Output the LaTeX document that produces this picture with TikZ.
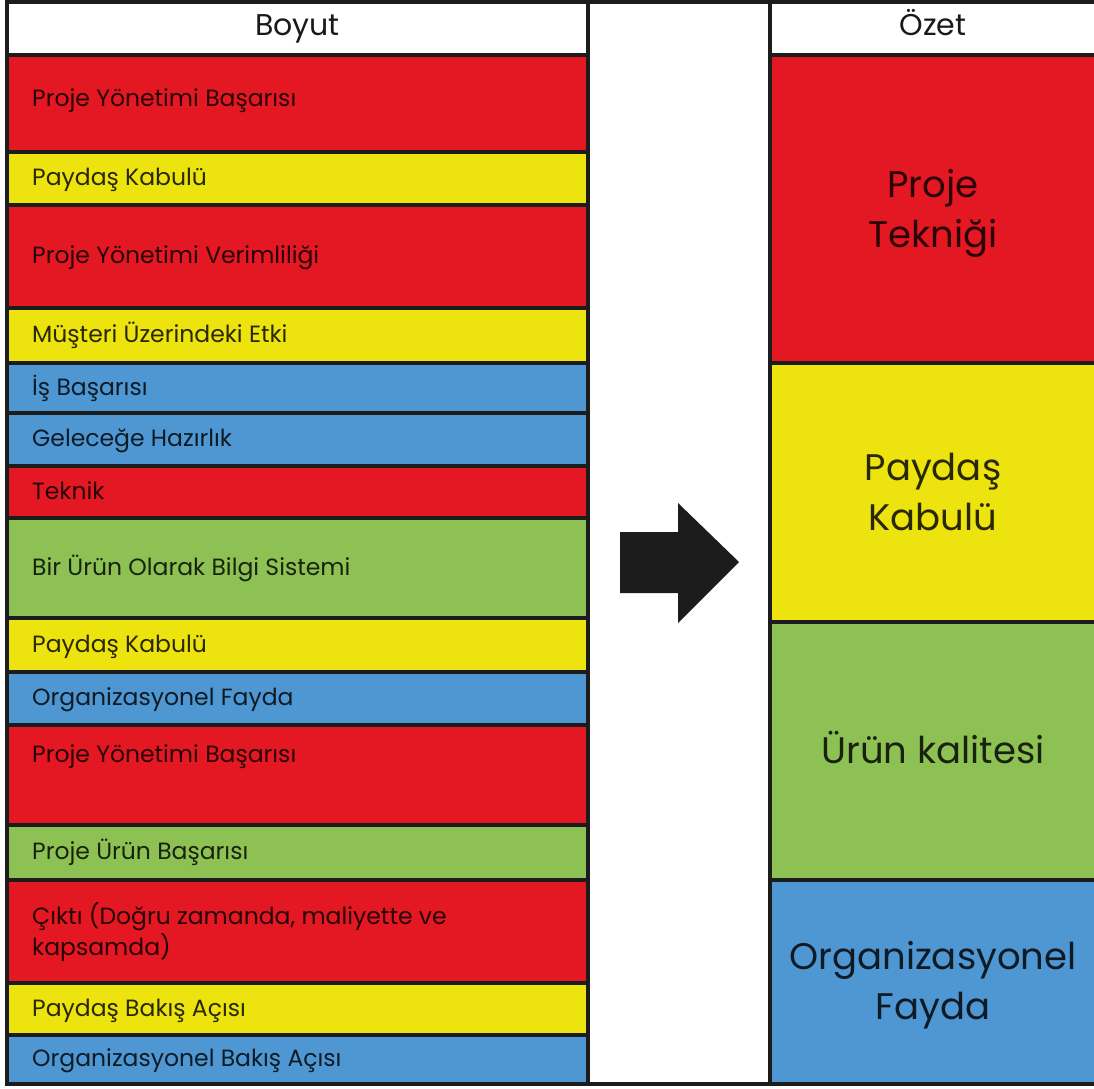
\documentclass[tikz,border=0pt]{standalone}
\usepackage{fontspec}
\setmainfont{Poppins}
\usetikzlibrary{calc}
\definecolor{cred}{HTML}{E31822}
\definecolor{cyellow}{HTML}{EDE30F}
\definecolor{cblue}{HTML}{4F97D2}
\definecolor{cgreen}{HTML}{8EC153}
\definecolor{edge}{HTML}{1C1C1C}
\begin{document}
\begin{tikzpicture}[x=1pt,y=-1pt,
  cell/.style={draw=edge, line width=3.5pt, anchor=north west, inner sep=0pt, outer sep=0pt},
  lbl/.style={anchor=base west, inner sep=0pt, font=\fontsize{23.5}{28}\selectfont, text=black, text opacity=0.82},
  big/.style={anchor=base, inner sep=0pt, font=\fontsize{37}{50}\selectfont, text=black, text opacity=0.82},
  head/.style={anchor=base, inner sep=0pt, font=\fontsize{30}{34}\selectfont, text=black, text opacity=0.9}]
\useasboundingbox (0,0) rectangle (1094,1088);
\clip (0,0) rectangle (1094,1088);
\fill[white] (0,0) rectangle (1094,1088);

% left column: header and rows
\node[cell, fill=white, minimum width=581pt, minimum height=53pt] (lh) at (7,2) {};
\node[head] (lht) at ($(lh.center)+(0,7)$) {Boyut};

\node[cell, fill=cred,    minimum width=581pt, minimum height=97pt]  (l1)  at (7,55)  {};
\node[cell, fill=cyellow, minimum width=581pt, minimum height=53pt]  (l2)  at (7,152) {};
\node[cell, fill=cred,    minimum width=581pt, minimum height=103pt] (l3)  at (7,205) {};
\node[cell, fill=cyellow, minimum width=581pt, minimum height=55pt]  (l4)  at (7,308) {};
\node[cell, fill=cblue,   minimum width=581pt, minimum height=50pt]  (l5)  at (7,363) {};
\node[cell, fill=cblue,   minimum width=581pt, minimum height=53pt]  (l6)  at (7,413) {};
\node[cell, fill=cred,    minimum width=581pt, minimum height=52pt]  (l7)  at (7,466) {};
\node[cell, fill=cgreen,  minimum width=581pt, minimum height=100pt] (l8)  at (7,518) {};
\node[cell, fill=cyellow, minimum width=581pt, minimum height=54pt]  (l9)  at (7,618) {};
\node[cell, fill=cblue,   minimum width=581pt, minimum height=53pt]  (l10) at (7,672) {};
\node[cell, fill=cred,    minimum width=581pt, minimum height=100pt] (l11) at (7,725) {};
\node[cell, fill=cgreen,  minimum width=581pt, minimum height=55pt]  (l12) at (7,825) {};
\node[cell, fill=cred,    minimum width=581pt, minimum height=103pt] (l13) at (7,880) {};
\node[cell, fill=cyellow, minimum width=581pt, minimum height=52pt]  (l14) at (7,983) {};
\node[cell, fill=cblue,   minimum width=581pt, minimum height=49pt]  (l15) at (7,1035){};

\node[lbl] (t1)  at ($(l1.west)+(25,3)$)  {Proje Yönetimi Başarısı};
\node[lbl] (t2)  at ($(l2.west)+(25,7)$)  {Paydaş Kabulü};
\node[lbl] (t3)  at ($(l3.west)+(25,7)$)  {Proje Yönetimi Verimliliği};
\node[lbl] (t4)  at ($(l4.west)+(25,7)$)  {Müşteri Üzerindeki Etki};
\node[lbl] (t5)  at ($(l5.west)+(25,7)$)  {İş Başarısı};
\node[lbl] (t6)  at ($(l6.west)+(25,7)$)  {Geleceğe Hazırlık};
\node[lbl] (t7)  at ($(l7.west)+(25,7)$)  {Teknik};
\node[lbl] (t8)  at ($(l8.west)+(25,7)$)  {Bir Ürün Olarak Bilgi Sistemi};
\node[lbl] (t9)  at ($(l9.west)+(25,7)$)  {Paydaş Kabulü};
\node[lbl] (t10) at ($(l10.west)+(25,7)$) {Organizasyonel Fayda};
\node[lbl] (t11) at ($(l11.north west)+(25,37)$) {Proje Yönetimi Başarısı};
\node[lbl] (t12) at ($(l12.west)+(25,7)$) {Proje Ürün Başarısı};
\node[lbl] (t13a) at ($(l13.west)+(25,-7)$) {Çıktı (Doğru zamanda, maliyette ve};
\node[lbl] (t13b) at ($(l13.west)+(25,24)$) {kapsamda)};
\node[lbl] (t14) at ($(l14.west)+(25,7)$) {Paydaş Bakış Açısı};
\node[lbl] (t15) at ($(l15.west)+(25,7)$) {Organizasyonel Bakış Açısı};

% middle column with the arrow
\node[cell, fill=white, minimum width=182pt, minimum height=1082pt] (mid) at (588,2) {};
\fill[edge] (620,532) -- (678,532) -- (678,503) -- (739,562) -- (678,623) -- (678,593) -- (620,593) -- cycle;

% right column
\node[cell, fill=white,   minimum width=326pt, minimum height=53pt]  (rh) at (770,2) {};
\node[head] (rht) at ($(rh.center)+(0,7)$) {Özet};
\node[cell, fill=cred,    minimum width=326pt, minimum height=308pt] (r1) at (770,55)  {};
\node[cell, fill=cyellow, minimum width=326pt, minimum height=259pt] (r2) at (770,363) {};
\node[cell, fill=cgreen,  minimum width=326pt, minimum height=258pt] (r3) at (770,622) {};
\node[cell, fill=cblue,   minimum width=326pt, minimum height=204pt] (r4) at (770,880) {};

\node[big] (s1a) at ($(r1.center)+(0,-12)$) {Proje};
\node[big] (s1b) at ($(r1.center)+(0,38)$)  {Tekniği};
\node[big] (s2a) at ($(r2.center)+(0,-12)$) {Paydaş};
\node[big] (s2b) at ($(r2.center)+(0,38)$)  {Kabulü};
\node[big] (s3)  at ($(r3.center)+(0,12)$)  {Ürün kalitesi};
\node[big] (s4a) at ($(r4.center)+(0,-13)$) {Organizasyonel};
\node[big] (s4b) at ($(r4.center)+(0,37)$)  {Fayda};
\end{tikzpicture}
\end{document}
